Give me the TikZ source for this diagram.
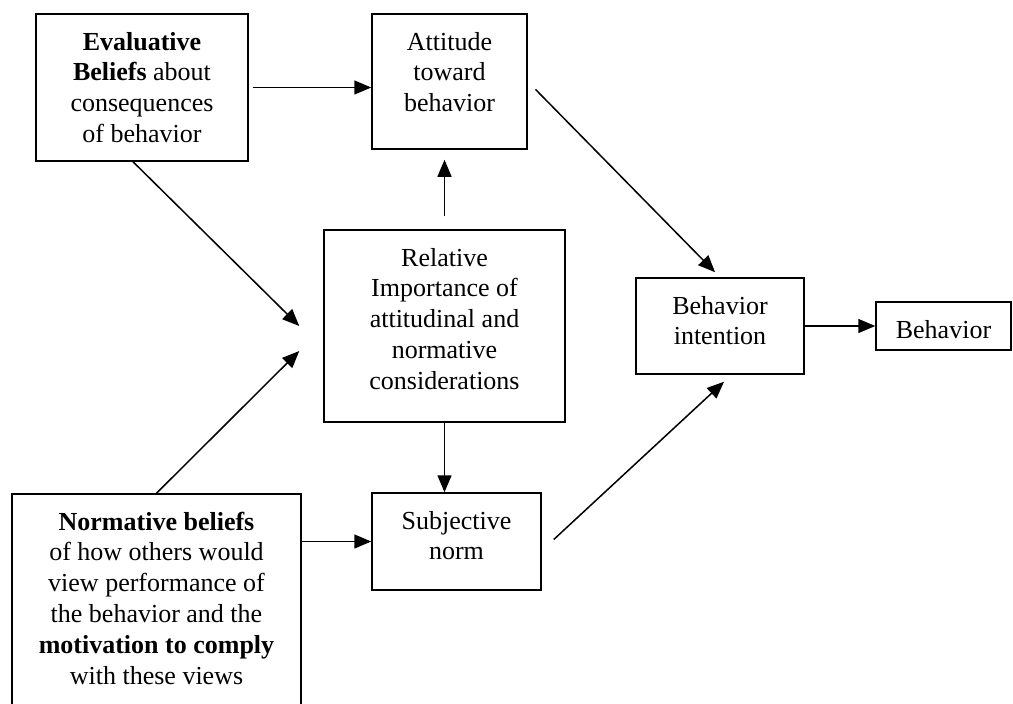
\documentclass[tikz,border=0pt]{standalone}
\usepackage{fontspec}
\setmainfont{Liberation Serif}
\usetikzlibrary{arrows.meta}

\tikzset{
	box/.style={draw, line width=1.5pt, inner sep=0pt},
	arr/.style={-{Triangle[length=17pt,width=14pt]}, line width=1.5pt}
}
\newcommand{\boxtxt}[3]{\parbox[c][#2][t]{#1}{\centering\rule{0pt}{36pt}#3}}

\begin{document}
\begin{tikzpicture}[x=1pt, y=-1pt, font=\fontsize{26}{30.8}\selectfont]
	\useasboundingbox (0,0) rectangle (1013,704);
	\clip (0,0) rectangle (1013,704);
	
	\node[box] (eval) at (142,87.5) {\boxtxt{212pt}{147pt}{\textbf{Evaluative}\\ \textbf{Beliefs} about\\ consequences\\ of behavior}};
	\node[box] (att) at (449.5,81.5) {\boxtxt{155pt}{135pt}{Attitude\\ toward\\ behavior}};
	\node[box] (rel) at (444.5,326) {\boxtxt{241pt}{192pt}{Relative\\ Importance of\\ attitudinal and\\ normative\\ considerations}};
	\node[box] (bi) at (720,326) {\boxtxt{168pt}{96pt}{Behavior\\ intention}};
	\node[box] (beh) at (943.5,326) {\boxtxt{135pt}{48pt}{Behavior}};
	\node[box] (sn) at (456.5,541.5) {\boxtxt{169pt}{97pt}{Subjective\\ norm}};
	\node[box] (norm) at (156.5,614) {\boxtxt{289pt}{240pt}{\textbf{Normative beliefs}\\ of how others would\\ view performance of\\ the behavior and the\\ \textbf{motivation to comply}\\ with these views}};
	
	\draw[arr, shorten <=4pt] (eval.east) -- (eval.east -| att.west);
	\draw[arr, shorten <=13pt, shorten >=10pt] (rel.north) -- (rel.north |- att.south);
	\draw[arr, shorten <=11pt, shorten >=7pt] (att.east) -- (bi.north);
	\draw[arr] ([xshift=-9pt]eval.south) -- ([shift={(-24,0)}]rel.west);
	\draw[arr] (norm.north) -- ([shift={(-24,25)}]rel.west);
	\draw[arr] (rel.south) -- (rel.south |- sn.north);
	\draw[arr] (sn.west -| norm.east) -- (sn.west);
	\draw[arr] ([shift={(12,-2)}]sn.east) -- ([shift={(4,7)}]bi.south);
	\draw[arr] (bi.east) -- (beh.west);
	
\end{tikzpicture}
\end{document}
